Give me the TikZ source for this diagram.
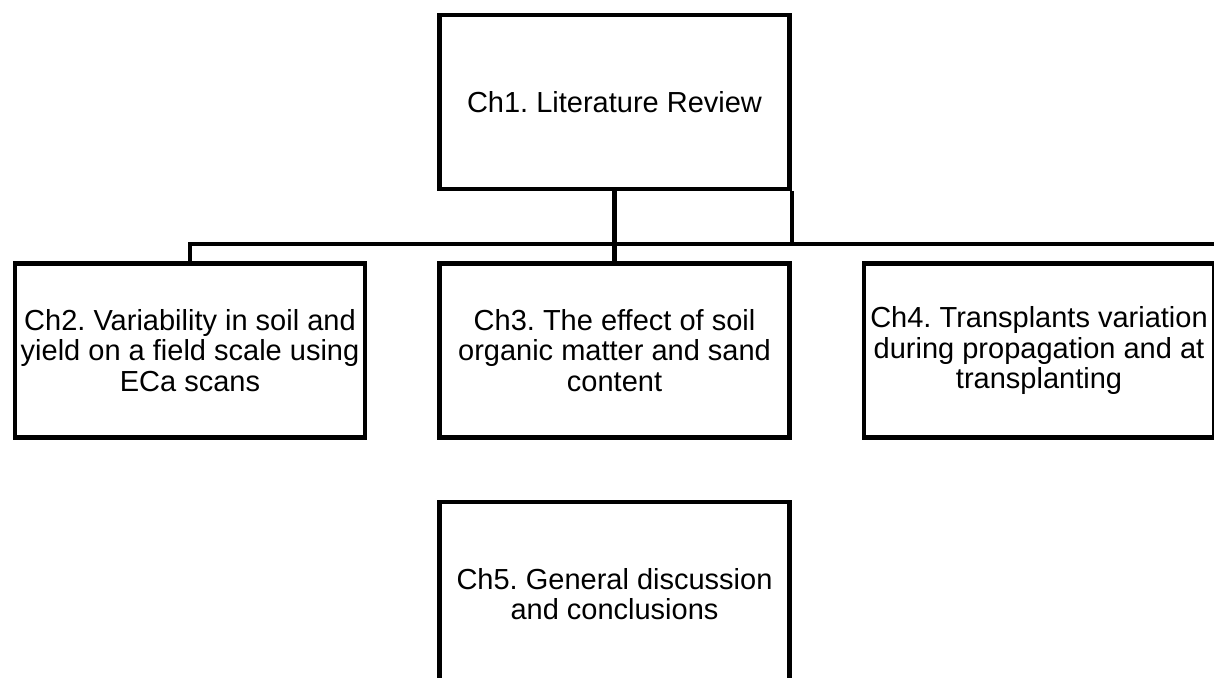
\documentclass[tikz,border=0pt]{standalone}
\usepackage{fontspec}
\setmainfont{Liberation Sans}
\usetikzlibrary{positioning}
\frenchspacing

\begin{document}
\begin{tikzpicture}[x=0.5pt,y=-0.5pt,line width=2.25pt,
	chapter/.style={draw,rectangle,minimum width=175pt,minimum height=87pt,inner sep=2pt,align=center,font=\fontsize{14.5}{15.2}\selectfont}]
  \useasboundingbox (0,0) rectangle (1214,677);

  \node[chapter] 	(ch1) at (614.5,102)		{Ch1. Literature Review};
  \node[chapter]	(ch3) [below=35pt of ch1]	{Ch3. The effect of soil\\organic matter and sand\\content};
  \node[chapter]	(ch2) [left=35pt of ch3]	{Ch2. Variability in soil and\\yield on a field scale using\\ECa scans};
  \node[chapter]	(ch4) [right=35pt of ch3]	{Ch4. Transplants variation\\during propagation and at\\transplanting};
  \node[chapter,minimum height=92pt]	(ch5) [below=30pt of ch3]	{Ch5. General discussion\\and conclusions};
  \coordinate (railend) at (1220,244);

  \path 	(ch1) edge (ch3);
  \draw	(ch2.north) |- (railend);
  \draw	(ch1.south east) -- (ch1.south east |- railend);
\end{tikzpicture}
\end{document}
